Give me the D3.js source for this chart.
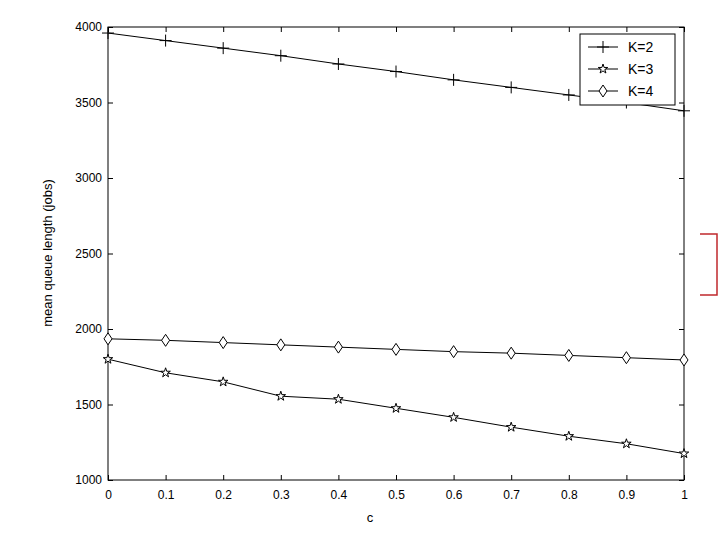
<!DOCTYPE html><html><head><meta charset="utf-8"><script src="https://cdn.jsdelivr.net/npm/d3@7"></script>
<style>body{margin:0;background:#fff}text{font-family:"Liberation Sans",Arial,sans-serif}</style></head><body><svg id="c" width="720" height="540"></svg>
<script>
const cs=[0,0.1,0.2,0.3,0.4,0.5,0.6,0.7,0.8,0.9,1];
const k2=[3960,3910,3860,3810,3755,3705,3650,3600,3550,3500,3445];
const k3=[1800,1710,1650,1555,1535,1475,1415,1350,1290,1240,1175];
const k4=[1935,1925,1910,1895,1880,1865,1850,1840,1825,1810,1795];
const yTicks=[1000,1500,2000,2500,3000,3500,4000];
const xTicks=[0,0.1,0.2,0.3,0.4,0.5,0.6,0.7,0.8,0.9,1];
const svg=d3.select("#c");
const L=108,R=684,T=27,B=480;
const x=d3.scaleLinear().domain([0,1]).range([L,R]);
const y=d3.scaleLinear().domain([1000,4000]).range([B,T]);
svg.append("rect").attr("x",L).attr("y",T).attr("width",R-L).attr("height",B-T).attr("fill","none").attr("stroke","#000");
svg.append("g").attr("transform",`translate(0,${B})`).call(d3.axisBottom(x).tickValues(xTicks).tickFormat(d3.format("")).tickSize(-5).tickPadding(10));
svg.append("g").attr("transform",`translate(0,${T})`).call(d3.axisTop(x).tickValues(xTicks).tickFormat("").tickSize(-5));
svg.append("g").attr("transform",`translate(${L},0)`).call(d3.axisLeft(y).tickValues(yTicks).tickFormat(d3.format("d")).tickSize(-5).tickPadding(6));
svg.append("g").attr("transform",`translate(${R},0)`).call(d3.axisRight(y).tickValues(yTicks).tickFormat("").tickSize(-5));
svg.selectAll(".domain").remove();
svg.selectAll(".tick text").attr("font-size",12).attr("fill","#000");
const line=d3.line().x((d,i)=>x(cs[i])).y(d=>y(d));
const series=[[k2,"plus"],[k3,"star"],[k4,"diamond"]];
function marker(g,type,px,py){
 if(type==="plus"){g.append("path").attr("d",`M${px-6},${py}H${px+6}M${px},${py-6}V${py+6}`).attr("stroke","#000");}
 else if(type==="star"){g.append("path").attr("d",d3.symbol(d3.symbolStar,28)()).attr("transform",`translate(${px},${py})`).attr("fill","#fff").attr("stroke","#000");}
 else {g.append("path").attr("d",`M${px},${py-6}L${px+4},${py}L${px},${py+6}L${px-4},${py}Z`).attr("fill","#fff").attr("stroke","#000");}
}
series.forEach(([d,t])=>{
 svg.append("path").attr("d",line(d)).attr("fill","none").attr("stroke","#000");
 const g=svg.append("g");
 d.forEach((v,i)=>marker(g,t,x(cs[i]),y(v)));
});
const lg=svg.append("g");
lg.append("rect").attr("x",580).attr("y",34).attr("width",95).attr("height",71).attr("fill","#fff").attr("stroke","#000");
["K=2","K=3","K=4"].forEach((s,i)=>{
 const ly=47+i*22;
 lg.append("line").attr("x1",588).attr("x2",618).attr("y1",ly).attr("y2",ly).attr("stroke","#000");
 marker(lg,series[i][1],603,ly);
 lg.append("text").attr("x",628).attr("y",ly+5).attr("font-size",14).text(s);
});
svg.append("text").attr("x",370).attr("y",522).attr("text-anchor","middle").attr("font-size",13).text("c");
svg.append("text").attr("transform","translate(52,253) rotate(-90)").attr("text-anchor","middle").attr("font-size",13).text("mean queue length (jobs)");
svg.append("path").attr("d","M700,234H717V295H700").attr("fill","none").attr("stroke","#c0282d").attr("stroke-width",1.5);
</script></body></html>
